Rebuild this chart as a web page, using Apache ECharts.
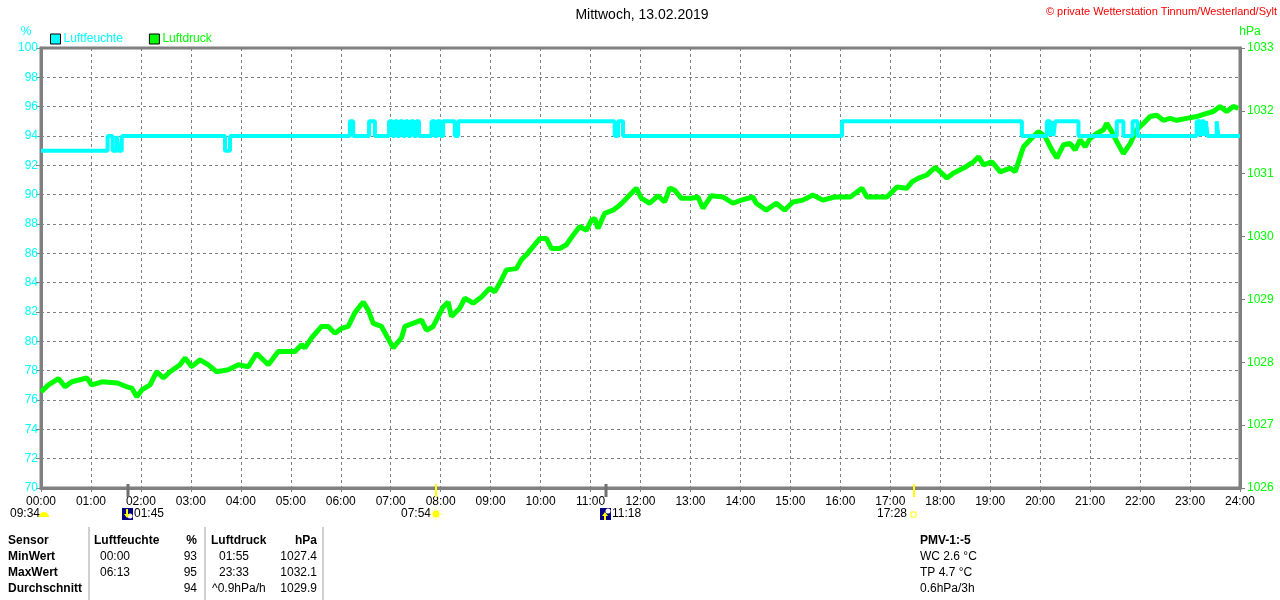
<!DOCTYPE html>
<html>
<head>
<meta charset="utf-8">
<script src="https://cdn.jsdelivr.net/npm/echarts@6/dist/echarts.min.js"></script>
</head>
<body style="margin:0; padding:0; background:#fff;">
<div id="chart" style="width:1280px; height:600px;"></div>
<script>
// Luftdruck (hPa), Zeit in Minuten seit 00:00
const pressMin = [0, 9, 21, 29, 37, 55, 61, 73, 92, 103, 109, 115, 121, 131, 139, 147, 155, 167, 173, 181,
  191, 201, 211, 225, 237, 249, 259, 273, 285, 305, 313, 317, 325, 337, 345, 353, 361, 369, 377, 387,
  393, 399, 409, 423, 433, 437, 457, 463, 471, 483, 489, 493, 503, 509, 519, 529, 539, 545, 553, 559,
  571, 577, 583, 591, 599, 607, 613, 623, 631, 639, 647, 655, 661, 665, 669, 677, 687, 695, 699, 707,
  715, 721, 731, 741, 749, 755, 761, 769, 781, 789, 795, 805, 819, 831, 841, 855, 859, 871, 883, 893,
  903, 915, 927, 939, 953, 972, 986, 992, 1016, 1028, 1040, 1046, 1054, 1064, 1074, 1080, 1088, 1096, 1108, 1120,
  1126, 1132, 1142, 1152, 1164, 1170, 1176, 1180, 1188, 1198, 1206, 1214, 1220, 1228, 1236, 1242, 1248, 1254, 1260, 1268,
  1276, 1280, 1286, 1292, 1300, 1308, 1316, 1324, 1332, 1340, 1348, 1356, 1364, 1376, 1388, 1400, 1408, 1416, 1424, 1432, 1438];
const pressVal = [1027.53, 1027.64, 1027.74, 1027.61, 1027.69, 1027.75, 1027.64, 1027.69, 1027.67, 1027.61, 1027.59, 1027.45, 1027.56, 1027.64, 1027.85, 1027.75, 1027.85, 1027.96, 1028.07, 1027.93,
  1028.04, 1027.96, 1027.85, 1027.88, 1027.96, 1027.93, 1028.14, 1027.96, 1028.17, 1028.17, 1028.28, 1028.23, 1028.39, 1028.57, 1028.57, 1028.46, 1028.54, 1028.57, 1028.79, 1028.96,
  1028.83, 1028.62, 1028.57, 1028.23, 1028.39, 1028.57, 1028.67, 1028.51, 1028.57, 1028.88, 1028.96, 1028.73, 1028.86, 1029.02, 1028.94, 1029.04, 1029.18, 1029.12, 1029.31, 1029.47,
  1029.49, 1029.63, 1029.71, 1029.84, 1029.97, 1029.97, 1029.81, 1029.81, 1029.87, 1030.02, 1030.16, 1030.10, 1030.26, 1030.29, 1030.13, 1030.37, 1030.42, 1030.50, 1030.55, 1030.66,
  1030.77, 1030.61, 1030.53, 1030.65, 1030.55, 1030.77, 1030.74, 1030.61, 1030.61, 1030.63, 1030.45, 1030.65, 1030.63, 1030.53, 1030.58, 1030.63, 1030.53, 1030.42, 1030.53, 1030.42,
  1030.55, 1030.58, 1030.66, 1030.58, 1030.63, 1030.63, 1030.77, 1030.63, 1030.63, 1030.79, 1030.77, 1030.87, 1030.93, 1030.98, 1031.10, 1031.03, 1030.93, 1031.01, 1031.09, 1031.19,
  1031.27, 1031.14, 1031.19, 1031.03, 1031.09, 1031.03, 1031.27, 1031.43, 1031.54, 1031.67, 1031.59, 1031.38, 1031.25, 1031.46, 1031.48, 1031.38, 1031.54, 1031.43, 1031.56, 1031.64,
  1031.70, 1031.80, 1031.67, 1031.51, 1031.32, 1031.48, 1031.70, 1031.80, 1031.91, 1031.93, 1031.85, 1031.88, 1031.85, 1031.88, 1031.91, 1031.96, 1031.99, 1032.07, 1031.99, 1032.07, 1032.04];

// Luftfeuchte (%), Wechselpunkte (Stufen)
const humMin = [0, 80, 86, 91, 93, 97, 221, 227, 371, 375, 394, 401, 418, 422, 425, 428, 431, 435, 438, 441,
  444, 448, 451, 454, 469, 473, 476, 480, 483, 497, 501, 689, 693, 699, 962, 1178, 1208, 1212, 1214, 1216,
  1218, 1246, 1292, 1300, 1311, 1317, 1388, 1392, 1394, 1397, 1399, 1401, 1412, 1414, 1440];
const humVal = [93, 94, 93, 94, 93, 94, 93, 94, 95, 94, 95, 94, 95, 94, 95, 94, 95, 94, 95, 94,
  95, 94, 95, 94, 95, 94, 95, 94, 95, 94, 95, 94, 95, 94, 95, 94, 95, 94, 95, 94,
  95, 94, 95, 94, 95, 94, 95, 94, 95, 94, 95, 94, 95, 94, 94];

// Sonne / Mond Ereignisse (Minuten)
const astroMin = [105, 474, 678, 1048];
const astroLabel = ['01:45', '07:54', '11:18', '17:28'];
const astroKind = ['moonDown', 'sunUp', 'moonUp', 'sunDown'];

// Tabelle
const tableHead = ['Sensor', 'Luftfeuchte', '%', 'Luftdruck', 'hPa'];
const rowLabels = ['MinWert', 'MaxWert', 'Durchschnitt'];
const humTimes = ['00:00', '06:13', ''];
const humStats = ['93', '95', '94'];
const pressTimes = ['01:55', '23:33', '^0.9hPa/h'];
const pressStats = ['1027.4', '1032.1', '1029.9'];
const pmvLines = ['PMV-1:-5', 'WC 2.6 °C', 'TP 4.7 °C', '0.6hPa/3h'];

const FONT = 'Liberation Sans, Arial, sans-serif';
const CYAN = '#00ffff';
const GREEN = '#00ff00';
const GRAY = '#808080';

function hhmm(m) {
  const h = Math.floor(m / 60), mm = m % 60;
  return String(h).padStart(2, '0') + ':' + String(mm).padStart(2, '0');
}

const chart = echarts.init(document.getElementById('chart'));

const option = {
  animation: false,
  backgroundColor: '#fff',
  textStyle: { fontFamily: FONT },
  grid: { left: 41, right: 40, top: 48, bottom: 112, show: true, borderColor: GRAY, borderWidth: 3 },
  legend: {
    left: 50, top: 33, padding: 0, icon: 'rect', itemWidth: 10, itemHeight: 10, itemGap: 26,
    itemStyle: { borderColor: '#000', borderWidth: 1 },
    textStyle: { fontSize: 12, fontFamily: FONT, padding: [0, 0, 0, -2] },
    data: [
      { name: 'Luftfeuchte', textStyle: { color: CYAN } },
      { name: 'Luftdruck', textStyle: { color: GREEN } }
    ]
  },
  xAxis: {
    type: 'value', min: 0, max: 1440, interval: 60,
    axisLine: { lineStyle: { color: GRAY, width: 3 } },
    axisTick: { length: 4, lineStyle: { color: GRAY } },
    axisLabel: { color: '#000', fontSize: 12, margin: 8, formatter: v => hhmm(v) },
    splitLine: { lineStyle: { color: GRAY, type: [3, 3], width: 1 } }
  },
  yAxis: [
    {
      type: 'value', min: 70, max: 100, interval: 2,
      axisLine: { show: true, lineStyle: { color: GRAY, width: 3 } },
      axisTick: { show: true, length: 5, lineStyle: { color: GRAY } },
      axisLabel: { color: CYAN, fontSize: 12, margin: 3 },
      splitLine: { lineStyle: { color: GRAY, type: [3, 3], width: 1 } }
    },
    {
      type: 'value', min: 1026, max: 1033, interval: 1,
      axisLine: { show: true, lineStyle: { color: GRAY, width: 3 } },
      axisTick: { show: true, length: 5, lineStyle: { color: GRAY } },
      axisLabel: { color: GREEN, fontSize: 12, margin: 7, formatter: v => String(v) },
      splitLine: { show: false }
    }
  ],
  series: [
    {
      name: 'Luftdruck', type: 'line', yAxisIndex: 1, showSymbol: false,
      itemStyle: { color: GREEN },
      lineStyle: { color: GREEN, width: 5 },
      data: pressMin.map((m, i) => [m, pressVal[i]])
    },
    {
      name: 'Luftfeuchte', type: 'line', yAxisIndex: 0, showSymbol: false, step: 'end',
      itemStyle: { color: CYAN },
      lineStyle: { color: CYAN, width: 4 },
      data: humMin.map((m, i) => [m, humVal[i]])
    }
  ]
};

chart.setOption(option);

// Texte, Tabelle und Sonnen-/Monddaten
const g = [];
function txt(x, y, s, opt) {
  g.push({ type: 'text', x: x, y: y, silent: true, style: Object.assign({
    text: s, fill: '#000', font: '12px ' + FONT, textVerticalAlign: 'middle', verticalAlign: 'middle'
  }, opt || {}) });
}

txt(642, 15, 'Mittwoch, 13.02.2019', { align: 'center', font: '14px ' + FONT });
txt(1277, 12, '© private Wetterstation Tinnum/Westerland/Sylt', { align: 'right', fill: '#ff0000', font: '11px ' + FONT });
txt(26, 32, '%', { align: 'center', fill: CYAN });
txt(1250, 32, 'hPa', { align: 'center', fill: GREEN });

// Tabelle
const rowY = [541, 557, 573, 589];
const bold = 'bold 12px ' + FONT;
txt(8, rowY[0], tableHead[0], { font: bold });
txt(94, rowY[0], tableHead[1], { font: bold });
txt(197, rowY[0], tableHead[2], { font: bold, align: 'right' });
txt(211, rowY[0], tableHead[3], { font: bold });
txt(317, rowY[0], tableHead[4], { font: bold, align: 'right' });
rowLabels.forEach((r, i) => {
  const y = rowY[i + 1];
  txt(8, y, r, { font: bold });
  txt(100, y, humTimes[i]);
  txt(197, y, humStats[i], { align: 'right' });
  txt(pressTimes[i].length > 5 ? 212 : 219, y, pressTimes[i]);
  txt(317, y, pressStats[i], { align: 'right' });
});
[89, 205, 323].forEach(x => {
  g.push({ type: 'line', silent: true, shape: { x1: x, y1: 527, x2: x, y2: 600 }, style: { stroke: '#a0a0a0', lineWidth: 1 } });
});
pmvLines.forEach((s, i) => txt(920, rowY[i], s, i === 0 ? { font: bold } : {}));

// Mond vom Vortag
txt(10, 514, '09:34');
g.push({ type: 'sector', silent: true, shape: { cx: 44, cy: 517, r0: 0, r: 5, startAngle: Math.PI, endAngle: Math.PI * 2 }, style: { fill: '#ffff00' } });

const axisY = chart.convertToPixel({ yAxisIndex: 0 }, 70);
astroMin.forEach((m, i) => {
  const x = Math.round(chart.convertToPixel({ xAxisIndex: 0 }, m));
  const kind = astroKind[i];
  const isSun = kind.startsWith('sun');
  g.push({ type: 'line', silent: true, z: 10,
    shape: { x1: x, y1: axisY - 4, x2: x, y2: axisY + 9 },
    style: { stroke: isSun ? '#ffff00' : '#707070', lineWidth: isSun ? 2 : 3 } });
  if (kind === 'sunUp') {
    txt(x - 5, 514, astroLabel[i], { align: 'right' });
    for (let k = 0; k < 8; k++) {
      const a = k * Math.PI / 4;
      g.push({ type: 'line', silent: true, shape: { x1: x + Math.cos(a) * 4, y1: 514 + Math.sin(a) * 4, x2: x + Math.cos(a) * 6.5, y2: 514 + Math.sin(a) * 6.5 }, style: { stroke: '#ffff80', lineWidth: 1 } });
    }
    g.push({ type: 'circle', silent: true, shape: { cx: x, cy: 514, r: 3.5 }, style: { fill: '#ffff00' } });
  } else if (kind === 'sunDown') {
    txt(x - 7, 514, astroLabel[i], { align: 'right' });
    g.push({ type: 'rect', silent: true, shape: { x: x - 3, y: 512, width: 5, height: 5 }, style: { fill: 'none', stroke: '#ffff00', lineWidth: 1 } });
  } else {
    txt(x + 6, 514, astroLabel[i]);
    g.push({ type: 'rect', silent: true, shape: { x: x - 6, y: 508, width: 11, height: 12 }, style: { fill: '#000080' } });
    g.push({ type: 'circle', silent: true, shape: { cx: x + 2, cy: kind === 'moonUp' ? 511 : 516, r: 2.5 }, style: { fill: '#ffffff' } });
    const up = kind === 'moonUp';
    const pts = up
      ? [[x - 1, 512], [x + 2, 516], [x, 516], [x, 520], [x - 2, 520], [x - 2, 516], [x - 4, 516]]
      : [[x - 1, 518], [x + 2, 514], [x, 514], [x, 509], [x - 2, 509], [x - 2, 514], [x - 4, 514]];
    g.push({ type: 'polygon', silent: true, shape: { points: pts }, style: { fill: '#ffff00' } });
  }
});

chart.setOption({ graphic: g });
</script>
</body>
</html>
